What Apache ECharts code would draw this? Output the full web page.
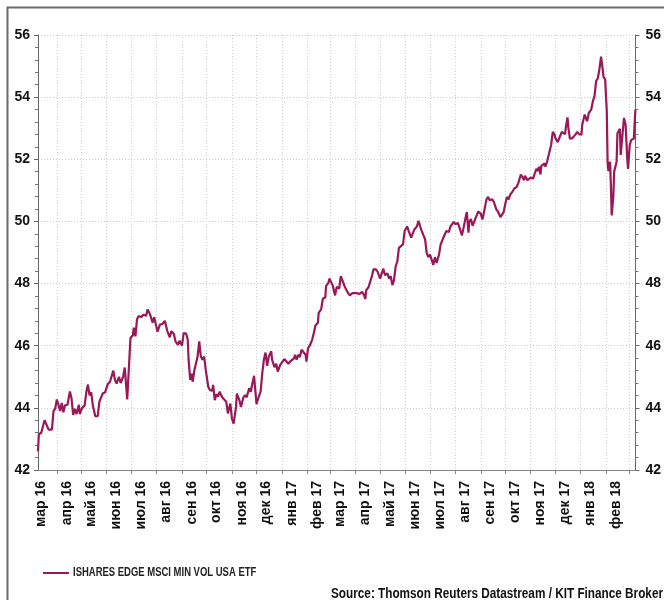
<!DOCTYPE html>
<html>
<head>
<meta charset="utf-8">
<script src="https://cdn.jsdelivr.net/npm/echarts@6/dist/echarts.min.js"></script>
<style>
  html, body { margin: 0; padding: 0; background: #fff; }
  #chart { width: 664px; height: 600px; }
</style>
</head>
<body>
<div id="chart"></div>
<script>
// first day on the x axis, the axis covers 731 days
var startDate = Date.UTC(2016, 2, 9);
var dayCount = 731;

var monthNames = ['янв', 'фев', 'мар', 'апр', 'май', 'июн', 'июл', 'авг', 'сен', 'окт', 'ноя', 'дек'];

var seriesName = 'ISHARES EDGE MSCI MIN VOL USA ETF';
var sourceText = 'Source: Thomson Reuters Datastream / KIT Finance Broker';

var yTicks = { min: 42, max: 56, step: 2 };

// [day since 9 Mar 2016, price]
var prices = [
  [0, 42.6], [1, 43.15], [4, 43.2], [8, 43.6], [10, 43.64], [13, 43.3], [17, 43.3], [19, 43.9],
  [21, 43.97], [23, 44.27], [25, 44.1], [27, 43.9], [29, 44.16], [31, 43.86], [33, 44.08], [36, 44.1],
  [39, 44.53], [41, 44.3], [43, 43.77], [45, 43.97], [47, 43.8], [50, 44.1], [51, 43.8], [54, 44.0],
  [57, 44.08], [59, 44.5], [61, 44.75], [63, 44.4], [65, 44.5], [67, 44.08], [70, 43.73], [73, 43.73],
  [75, 44.2], [79, 44.46], [82, 44.5], [85, 44.75], [88, 44.84], [92, 45.2], [94, 44.9], [96, 44.78],
  [99, 45.0], [101, 44.8], [104, 45.0], [106, 45.3], [109, 44.27], [113, 46.25], [116, 46.34], [117, 46.58],
  [119, 46.3], [121, 46.85], [123, 46.96], [126, 46.92], [129, 47.0], [132, 46.96], [134, 47.17], [137, 47.0],
  [140, 46.74], [142, 46.92], [146, 46.45], [149, 46.68], [152, 46.7], [155, 46.8], [158, 46.47], [161, 46.27],
  [163, 46.47], [166, 46.38], [168, 46.14], [171, 46.03], [173, 46.16], [176, 46.0],
  [178, 46.41], [181, 46.39], [183, 46.19], [184, 45.55], [186, 44.9], [188, 45.1], [189, 44.84], [191, 45.2],
  [193, 45.2], [195, 45.65], [197, 46.14], [199, 45.65], [201, 45.55], [203, 45.65], [205, 45.22], [208, 44.68],
  [210, 44.57], [213, 44.55], [214, 44.74], [216, 44.25], [218, 44.44], [220, 44.36], [222, 44.52], [225, 44.34],
  [227, 44.36], [230, 44.2], [232, 43.82], [235, 44.14], [237, 43.65], [239, 43.49], [242, 44.03], [243, 44.46],
  [246, 44.25], [248, 44.03], [251, 44.34], [253, 44.41], [255, 44.34], [258, 44.63], [260, 44.52], [262, 44.79],
  [264, 45.03], [267, 44.12], [269, 44.3], [272, 44.52], [274, 45.11], [276, 45.55], [278, 45.78], [280, 45.35],
  [282, 45.65], [285, 45.82], [286, 45.55], [289, 45.31], [291, 45.42], [293, 45.17], [296, 45.38], [298, 45.33],
  [301, 45.57], [303, 45.63], [306, 45.42], [308, 45.49], [310, 45.55], [313, 45.6], [314, 45.71], [316, 45.55],
  [318, 45.71], [320, 45.63], [322, 45.87], [324, 45.85], [327, 45.71], [328, 45.49], [330, 45.92], [332, 46.0],
  [335, 46.19], [337, 46.41], [339, 46.65], [342, 46.74], [343, 47.06], [346, 47.17], [348, 47.51], [351, 47.55],
  [352, 47.92], [355, 48.03], [356, 48.16],
  [360, 47.95], [363, 47.62], [365, 47.89], [368, 47.84], [370, 48.24], [372, 48.2], [375, 47.89], [377, 47.95],
  [379, 47.69], [381, 47.62], [384, 47.69], [386, 47.65], [389, 47.69], [391, 47.65], [393, 47.67], [396, 47.73],
  [398, 47.65], [400, 47.51], [401, 47.78], [404, 47.89], [406, 47.95], [408, 48.24], [410, 48.46], [413, 48.46],
  [415, 48.38], [418, 48.16], [420, 48.33], [422, 48.48], [424, 48.27], [427, 48.33], [429, 48.16], [431, 48.24],
  [433, 47.95], [435, 48.11], [437, 48.55], [439, 48.71], [441, 49.15], [443, 49.18], [446, 49.26], [448, 49.69],
  [451, 49.84], [453, 49.69], [456, 49.48], [458, 49.62], [460, 49.75], [463, 49.84], [465, 50.02], [468, 49.75],
  [470, 49.77], [473, 49.42], [475, 48.98], [477, 48.85], [479, 48.93], [481, 48.77], [483, 48.6], [485, 48.85],
  [487, 48.66], [490, 48.93], [492, 49.26], [494, 49.31], [497, 49.58], [499, 49.69], [502, 49.66], [504, 49.84],
  [506, 49.91], [508, 49.99], [510, 49.91], [513, 49.95], [515, 49.8], [518, 49.55], [520, 49.8], [523, 50.19],
  [524, 50.3], [526, 49.64], [527, 49.99], [529, 50.08], [531, 49.86], [533, 49.99], [535, 50.13], [538, 50.32],
  [541, 50.25], [543, 50.06], [545, 50.3], [548, 50.71], [550, 50.79], [552, 50.68], [555, 50.71], [557, 50.63],
  [560, 50.39], [562, 50.32], [565, 50.14], [567, 50.11], [569, 50.3], [571, 50.57], [573, 50.79], [575, 50.71],
  [577, 50.86], [580, 50.97], [582, 51.06], [585, 51.11], [587, 51.25], [590, 51.51], [592, 51.49], [594, 51.33],
  [595, 51.47], [598, 51.33], [600, 51.33], [602, 51.41], [605, 51.38], [607, 51.55], [609, 51.69], [611, 51.62],
  [612, 51.76], [614, 51.51], [615, 51.79], [617, 51.73], [619, 51.87], [620, 51.76], [622, 51.92], [624, 51.98],
  [627, 52.46], [629, 52.88], [631, 52.81], [632, 52.7], [635, 52.55], [637, 52.57], [640, 52.88], [642, 52.92],
  [644, 52.81], [645, 53.03], [647, 53.35], [648, 53.03], [650, 52.66], [653, 52.68], [655, 52.7], [657, 52.81],
  [659, 52.88], [661, 52.81], [664, 52.79], [665, 53.11], [668, 53.44], [670, 53.49], [671, 53.22], [673, 53.49],
  [674, 53.49], [676, 53.6], [678, 53.87], [679, 53.87], [680, 54.03], [682, 54.52], [684, 54.61], [686, 54.9],
  [688, 55.3], [690, 54.9], [691, 54.65], [693, 54.57], [695, 53.55], [696, 51.92], [697, 51.62], [699, 51.92],
  [700, 51.17], [701, 50.19], [703, 50.79], [704, 51.6], [707, 51.92], [708, 52.84], [711, 52.98], [712, 52.14],
  [714, 52.09], [716, 53.33], [718, 53.11], [720, 52.03], [721, 51.69], [723, 52.46], [725, 52.63], [728, 52.66],
  [730, 53.6]
];

// one category per day
var days = [];
for (var i = 0; i < dayCount; i++) {
    var d = new Date(startDate + i * 86400000);
    var mm = d.getUTCMonth() + 1;
    var dd = d.getUTCDate();
    days.push(d.getUTCFullYear() + '-' + (mm < 10 ? '0' + mm : mm) + '-' + (dd < 10 ? '0' + dd : dd));
}

function isMonthStart(idx, val) {
    return val.slice(8) === '01';
}
function isMidMonth(idx, val) {
    return val.slice(8) === '13';
}

var lineColor = '#9a1858';
var fontMain = 'Arial, "Liberation Sans", sans-serif';

var yAxisBase = {
    type: 'value',
    min: yTicks.min,
    max: yTicks.max,
    interval: yTicks.step,
    axisLine: { show: true, lineStyle: { color: '#666', width: 1 } },
    axisTick: { show: true, length: 4, lineStyle: { color: '#666' } },
    minorTick: { show: true, splitNumber: 5, length: 3, lineStyle: { color: '#777' } },
    axisLabel: { color: '#111', fontSize: 14, fontWeight: 'bold', fontFamily: fontMain, margin: 8 }
};

var myChart = echarts.init(document.getElementById('chart'), null, { renderer: 'canvas' });

var option = {
    backgroundColor: '#fff',
    animation: false,
    grid: { left: 38, right: 23, top: 35, bottom: 130 },
    xAxis: {
        type: 'category',
        data: days,
        boundaryGap: false,
        axisLine: { show: true, lineStyle: { color: '#888', width: 1 } },
        axisTick: { show: true, interval: isMonthStart, length: 4, lineStyle: { color: '#888' } },
        splitLine: { show: true, interval: isMonthStart, lineStyle: { color: '#cfcfcf', type: [1, 2] } },
        axisLabel: {
            interval: isMidMonth,
            rotate: 90,
            margin: 11,
            color: '#111',
            fontSize: 14,
            fontWeight: 'bold',
            fontFamily: fontMain,
            formatter: function (val) {
                var y = val.slice(2, 4);
                var m = parseInt(val.slice(5, 7), 10) - 1;
                return monthNames[m] + ' ' + y;
            }
        }
    },
    yAxis: [
        Object.assign({}, yAxisBase, {
            position: 'left',
            splitLine: { show: true, lineStyle: { color: '#cfcfcf', type: [1, 2] } }
        }),
        Object.assign({}, yAxisBase, {
            position: 'right',
            splitLine: { show: false },
            axisLabel: { color: '#111', fontSize: 14, fontWeight: 'bold', fontFamily: fontMain, margin: 10 }
        })
    ],
    graphic: [
        {
            type: 'rect',
            shape: { x: 7.5, y: 7.5, width: 700, height: 700 },
            style: { fill: null, stroke: '#6a6a6a', lineWidth: 2 },
            silent: true
        },
        // legend: coloured line and a condensed label
        {
            type: 'line',
            shape: { x1: 43, y1: 573, x2: 69, y2: 573 },
            style: { stroke: lineColor, lineWidth: 2 }
        },
        {
            type: 'text',
            x: 73,
            y: 573,
            scaleX: 0.79,
            style: {
                text: seriesName, fill: '#222', fontSize: 12, fontWeight: 'bold',
                fontFamily: fontMain, verticalAlign: 'middle'
            }
        },
        {
            type: 'text',
            x: 663,
            y: 594,
            scaleX: 0.84,
            style: {
                text: sourceText, fill: '#111', fontSize: 14, fontWeight: 'bold',
                fontFamily: fontMain, align: 'right', verticalAlign: 'middle'
            }
        }
    ],
    series: [{
        name: seriesName,
        type: 'line',
        yAxisIndex: 0,
        data: prices,
        showSymbol: false,
        symbol: 'none',
        color: lineColor,
        lineStyle: { color: lineColor, width: 2.2 }
    }]
};

myChart.setOption(option);
</script>
</body>
</html>
